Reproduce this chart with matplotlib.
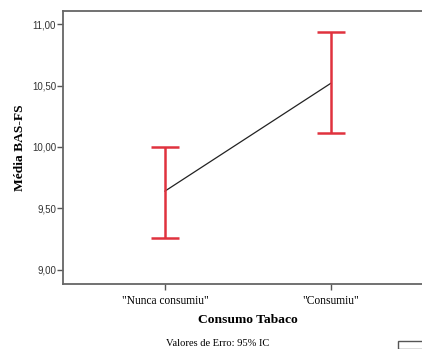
import matplotlib
matplotlib.use('Agg')
from matplotlib import pyplot as plt
from matplotlib.patches import Rectangle

# Data
categories = ['"Nunca consumiu"', '"Consumiu"']
means = [9.64, 10.52]
ci_low = [9.26, 10.11]
ci_high = [10.00, 10.94]
y_ticks = [9.0, 9.5, 10.0, 10.5, 11.0]
y_tick_labels = ['9,00', '9,50', '10,00', '10,50', '11,00']

W, H = 422, 349
fig = plt.figure(figsize=(W / 100, H / 100), dpi=100)
# axes runs off the right edge like in the source image
ax = fig.add_axes([63 / W, 1 - 284 / H, (433 - 63) / W, (284 - 11) / H])

x = list(range(len(categories)))
ax.plot(x, means, color='#222222', lw=0.9, zorder=2)
err_lo = [m - lo for m, lo in zip(means, ci_low)]
err_hi = [hi - m for m, hi in zip(means, ci_high)]
ax.errorbar(x, means, yerr=[err_lo, err_hi], fmt='none', ecolor='#e0323e',
            elinewidth=1.8, capsize=10, capthick=1.8, zorder=3)

ax.set_xlim(-0.614, 1.614)
ax.set_ylim(8.883, 11.108)
ax.set_yticks(y_ticks)
ax.set_yticklabels(y_tick_labels, family='Liberation Sans', fontsize=7, color='#333333')
ax.set_xticks(x)
ax.set_xticklabels(categories, family='Liberation Serif', fontsize=8.3)
ax.tick_params(axis='both', direction='out', length=4, width=1, color='#555555', pad=1)
ax.tick_params(axis='x', pad=4)

for s in ax.spines.values():
    s.set_color('#666666')
    s.set_linewidth(1.3)

fig.text(20 / W, 1 - 148 / H, 'Média BAS-FS', rotation=90, ha='center', va='center',
         family='Liberation Serif', fontweight='bold', fontsize=9.7)
fig.text(248 / W, 1 - 320 / H, 'Consumo Tabaco', ha='center', va='center',
         family='Liberation Serif', fontweight='bold', fontsize=9.7)
fig.text(218 / W, 1 - 343 / H, 'Valores de Erro: 95% IC', ha='center', va='center',
         family='Liberation Serif', fontsize=7.6)

# partial legend frame at the bottom right
fig.patches.append(Rectangle((398 / W, 0), 40 / W, 8 / H, transform=fig.transFigure,
                             fill=False, edgecolor='#555555', lw=1))

fig.savefig('out.png', dpi=100)
